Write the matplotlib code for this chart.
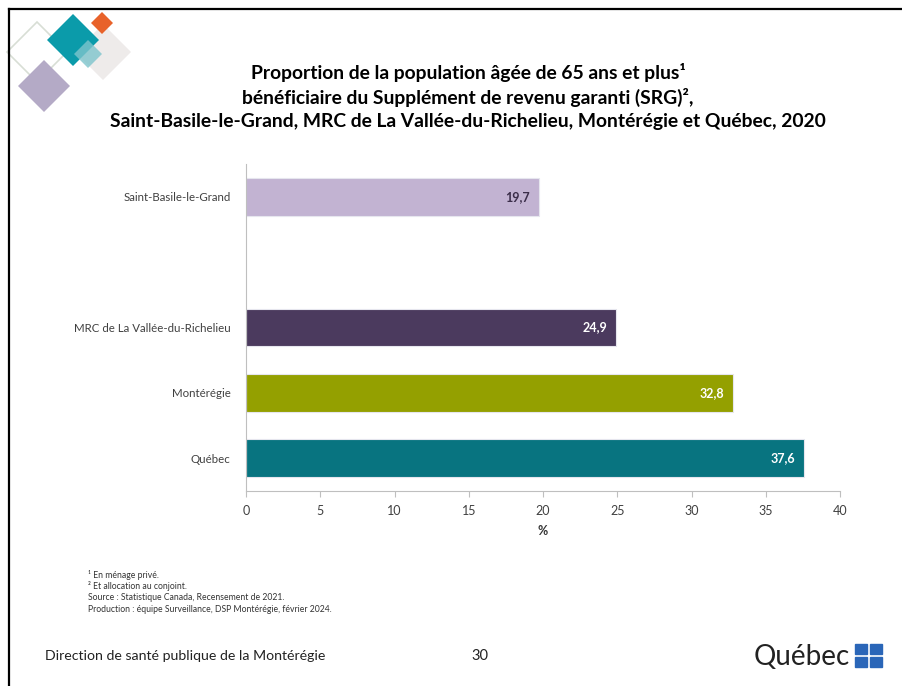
import matplotlib.pyplot as plt
from matplotlib.patches import Polygon, Rectangle
from matplotlib.lines import Line2D

plt.rcParams['font.family'] = ['Lato', 'DejaVu Sans']

regions = ['Québec', 'Montérégie', 'MRC de La Vallée-du-Richelieu', '', 'Saint-Basile-le-Grand']
values = [37.6, 32.8, 24.9, None, 19.7]
colors = ['#087480', '#94A000', '#4B3A5E', 'none', '#C2B3D2']
label_colors = ['white', 'white', 'white', 'white', '#3B2E4A']
xticks = [0, 5, 10, 15, 20, 25, 30, 35, 40]

W, H = 902, 686
fig = plt.figure(figsize=(W / 100, H / 100), dpi=100)


def fx(px):
    return px / W


def fy(py):
    return 1 - py / H


ax = fig.add_axes([fx(246), fy(491), fx(840) - fx(246), fy(164) - fy(491)])

for i, (v, c) in enumerate(zip(values, colors)):
    if v is None:
        continue
    ax.barh(i, v, height=0.58, color=c, edgecolor='#E6E6EE', linewidth=0.8)
    ax.text(v - 0.6, i, f'{v:.1f}'.replace('.', ','), ha='right', va='center',
            fontsize=9, fontweight='bold', color=label_colors[i])

ax.set_xlim(0, 40)
ax.set_ylim(-0.5, 4.5)
ax.set_yticks(range(len(regions)))
ax.set_yticklabels(regions, fontsize=8.3, color='#404040')
ax.set_xticks(xticks)
ax.set_xticklabels([str(t) for t in xticks], fontsize=9, color='#404040')
ax.tick_params(axis='y', length=0, pad=11)
ax.tick_params(axis='x', length=4, color='#BFBFBF', pad=6)
ax.set_xlabel('%', fontsize=9, fontweight='bold', color='#333333', labelpad=6)
for s in ['top', 'right']:
    ax.spines[s].set_visible(False)
for s in ['left', 'bottom']:
    ax.spines[s].set_color('#BFBFBF')

# title
title_lines = [
    'Proportion de la population âgée de 65 ans et plus¹',
    'bénéficiaire du Supplément de revenu garanti (SRG)²,',
    'Saint-Basile-le-Grand, MRC de La Vallée-du-Richelieu, Montérégie et Québec, 2020',
]
for ty, t in zip([72, 97, 122], title_lines):
    fig.text(fx(468), fy(ty), t, ha='center', va='center', fontsize=13.9,
             fontweight='bold', color='black')

# footnotes
notes = [
    '¹ En ménage privé.',
    '² Et allocation au conjoint.',
    'Source : Statistique Canada, Recensement de 2021.',
    'Production : équipe Surveillance, DSP Montérégie, février 2024.',
]
for ny, n in zip([575, 586, 598, 609], notes):
    fig.text(fx(88), fy(ny), n, ha='left', va='center', fontsize=6.2, color='#333333')

# footer
fig.text(fx(45), fy(656), 'Direction de santé publique de la Montérégie', ha='left',
         va='center', fontsize=10.2, color='#222222')
fig.text(fx(480), fy(656), '30', ha='center', va='center', fontsize=10.5, color='#222222')
fig.text(fx(850), fy(657), 'Québec', ha='right', va='center', fontsize=20,
         color='#222222')
for bx in [855, 870]:
    for by in [644, 657]:
        fig.patches.append(Rectangle((fx(bx), fy(by + 10)), fx(12), 10 / H,
                                     transform=fig.transFigure, color='#2A66B8'))

# decorative diamonds, top-left


def diamond(cx, cy, r, **kw):
    pts = [(fx(cx), fy(cy - r)), (fx(cx + r), fy(cy)), (fx(cx), fy(cy + r)), (fx(cx - r), fy(cy))]
    fig.patches.append(Polygon(pts, closed=True, transform=fig.transFigure, **kw))


diamond(37, 52, 30, facecolor='none', edgecolor='#D8DED5', linewidth=1.2)
diamond(103, 52, 28, facecolor='#EEEBEA', edgecolor='none')
diamond(44, 86, 26, facecolor='#B4AAC6', edgecolor='none')
diamond(73, 40, 26, facecolor='#0B9BAA', edgecolor='none')
diamond(102, 23, 11, facecolor='#E8622A', edgecolor='none')
diamond(88, 54, 14, facecolor='#7EC5CC', edgecolor='none', alpha=0.8)

# frame lines
fig.lines.append(Line2D([fx(9), 1], [fy(9), fy(9)], transform=fig.transFigure,
                        color='black', linewidth=1.6))
fig.lines.append(Line2D([fx(9), fx(9)], [fy(9), 0], transform=fig.transFigure,
                        color='black', linewidth=1.6))

fig.savefig('out.png', dpi=100, facecolor='white')
